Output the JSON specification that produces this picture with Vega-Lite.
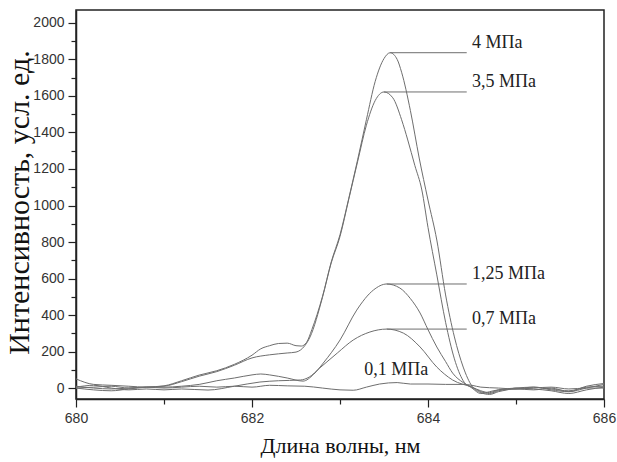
{
  "$schema": "https://vega.github.io/schema/vega-lite/v6.json",
  "width": 528,
  "height": 389,
  "autosize": {"type": "none"},
  "padding": {"left": 76, "top": 10, "right": 13, "bottom": 63},
  "background": "white",
  "config": {
    "view": {"stroke": "#222", "strokeWidth": 1.5},
    "axis": {"grid": false, "domainColor": "#222", "domainWidth": 1.5, "tickColor": "#222", "tickWidth": 1.2, "labelFont": "Liberation Sans", "labelFontSize": 14, "labelColor": "#333", "titleFont": "Liberation Serif", "titleFontWeight": "normal", "titleColor": "#111", "labelOverlap": false, "labelFlush": false}
  },
  "datasets": {
    "curves": [
      {"p":"4","x":680.0,"y":10},{"p":"4","x":680.2,"y":0},{"p":"4","x":680.4,"y":-5},{"p":"4","x":680.6,"y":0},{"p":"4","x":680.8,"y":5},{"p":"4","x":681.0,"y":12},{"p":"4","x":681.2,"y":40},{"p":"4","x":681.4,"y":71},{"p":"4","x":681.6,"y":95},{"p":"4","x":681.8,"y":130},{"p":"4","x":682.0,"y":180},{"p":"4","x":682.1,"y":215},{"p":"4","x":682.2,"y":232},{"p":"4","x":682.3,"y":244},{"p":"4","x":682.4,"y":246},{"p":"4","x":682.5,"y":232},{"p":"4","x":682.56,"y":230},{"p":"4","x":682.62,"y":250},{"p":"4","x":682.68,"y":320},{"p":"4","x":682.8,"y":500},{"p":"4","x":682.9,"y":690},{"p":"4","x":683.0,"y":840},{"p":"4","x":683.1,"y":1040},{"p":"4","x":683.2,"y":1250},{"p":"4","x":683.3,"y":1470},{"p":"4","x":683.4,"y":1680},{"p":"4","x":683.5,"y":1805},{"p":"4","x":683.57,"y":1837},{"p":"4","x":683.65,"y":1800},{"p":"4","x":683.7,"y":1730},{"p":"4","x":683.8,"y":1520},{"p":"4","x":683.9,"y":1260},{"p":"4","x":684.0,"y":1030},{"p":"4","x":684.1,"y":811},{"p":"4","x":684.2,"y":510},{"p":"4","x":684.3,"y":280},{"p":"4","x":684.4,"y":115},{"p":"4","x":684.5,"y":10},{"p":"4","x":684.6,"y":-25},{"p":"4","x":684.7,"y":-35},{"p":"4","x":684.8,"y":-20},{"p":"4","x":684.9,"y":-10},{"p":"4","x":685.0,"y":0},{"p":"4","x":685.2,"y":-5},{"p":"4","x":685.4,"y":-15},{"p":"4","x":685.6,"y":-30},{"p":"4","x":685.8,"y":-10},{"p":"4","x":686.0,"y":5},
      {"p":"3.5","x":680.0,"y":0},{"p":"3.5","x":680.2,"y":-10},{"p":"3.5","x":680.4,"y":-15},{"p":"3.5","x":680.6,"y":-5},{"p":"3.5","x":680.8,"y":5},{"p":"3.5","x":681.0,"y":10},{"p":"3.5","x":681.2,"y":35},{"p":"3.5","x":681.4,"y":65},{"p":"3.5","x":681.6,"y":90},{"p":"3.5","x":681.8,"y":125},{"p":"3.5","x":682.0,"y":165},{"p":"3.5","x":682.2,"y":182},{"p":"3.5","x":682.4,"y":192},{"p":"3.5","x":682.5,"y":197},{"p":"3.5","x":682.6,"y":232},{"p":"3.5","x":682.66,"y":280},{"p":"3.5","x":682.8,"y":495},{"p":"3.5","x":682.9,"y":685},{"p":"3.5","x":683.0,"y":830},{"p":"3.5","x":683.1,"y":1035},{"p":"3.5","x":683.2,"y":1240},{"p":"3.5","x":683.3,"y":1440},{"p":"3.5","x":683.4,"y":1575},{"p":"3.5","x":683.5,"y":1622},{"p":"3.5","x":683.6,"y":1590},{"p":"3.5","x":683.7,"y":1470},{"p":"3.5","x":683.77,"y":1359},{"p":"3.5","x":683.85,"y":1220},{"p":"3.5","x":683.93,"y":1085},{"p":"3.5","x":684.0,"y":880},{"p":"3.5","x":684.1,"y":620},{"p":"3.5","x":684.2,"y":360},{"p":"3.5","x":684.3,"y":160},{"p":"3.5","x":684.4,"y":40},{"p":"3.5","x":684.5,"y":0},{"p":"3.5","x":684.6,"y":-30},{"p":"3.5","x":684.7,"y":-20},{"p":"3.5","x":684.8,"y":-10},{"p":"3.5","x":685.0,"y":-5},{"p":"3.5","x":685.2,"y":5},{"p":"3.5","x":685.4,"y":-10},{"p":"3.5","x":685.6,"y":-20},{"p":"3.5","x":685.8,"y":10},{"p":"3.5","x":686.0,"y":25},
      {"p":"1.25","x":680.0,"y":50},{"p":"1.25","x":680.2,"y":20},{"p":"1.25","x":680.4,"y":15},{"p":"1.25","x":680.6,"y":10},{"p":"1.25","x":680.8,"y":5},{"p":"1.25","x":681.0,"y":5},{"p":"1.25","x":681.2,"y":10},{"p":"1.25","x":681.4,"y":20},{"p":"1.25","x":681.6,"y":40},{"p":"1.25","x":681.8,"y":55},{"p":"1.25","x":682.0,"y":72},{"p":"1.25","x":682.1,"y":77},{"p":"1.25","x":682.2,"y":72},{"p":"1.25","x":682.4,"y":55},{"p":"1.25","x":682.58,"y":38},{"p":"1.25","x":682.7,"y":75},{"p":"1.25","x":682.81,"y":137},{"p":"1.25","x":683.0,"y":263},{"p":"1.25","x":683.19,"y":427},{"p":"1.25","x":683.38,"y":537},{"p":"1.25","x":683.53,"y":570},{"p":"1.25","x":683.68,"y":548},{"p":"1.25","x":683.8,"y":490},{"p":"1.25","x":683.91,"y":411},{"p":"1.25","x":684.0,"y":320},{"p":"1.25","x":684.1,"y":225},{"p":"1.25","x":684.2,"y":145},{"p":"1.25","x":684.28,"y":82},{"p":"1.25","x":684.4,"y":30},{"p":"1.25","x":684.5,"y":5},{"p":"1.25","x":684.6,"y":-20},{"p":"1.25","x":684.7,"y":-30},{"p":"1.25","x":684.8,"y":-15},{"p":"1.25","x":685.0,"y":-5},{"p":"1.25","x":685.2,"y":-10},{"p":"1.25","x":685.4,"y":0},{"p":"1.25","x":685.6,"y":-20},{"p":"1.25","x":685.8,"y":0},{"p":"1.25","x":686.0,"y":20},
      {"p":"0.7","x":680.0,"y":5},{"p":"0.7","x":680.2,"y":15},{"p":"0.7","x":680.4,"y":0},{"p":"0.7","x":680.6,"y":-10},{"p":"0.7","x":680.8,"y":-5},{"p":"0.7","x":681.0,"y":-10},{"p":"0.7","x":681.2,"y":-5},{"p":"0.7","x":681.5,"y":-11},{"p":"0.7","x":681.8,"y":10},{"p":"0.7","x":682.09,"y":33},{"p":"0.7","x":682.3,"y":40},{"p":"0.7","x":682.55,"y":44},{"p":"0.7","x":682.65,"y":60},{"p":"0.7","x":682.77,"y":110},{"p":"0.7","x":682.97,"y":192},{"p":"0.7","x":683.15,"y":263},{"p":"0.7","x":683.34,"y":307},{"p":"0.7","x":683.53,"y":323},{"p":"0.7","x":683.72,"y":301},{"p":"0.7","x":683.91,"y":225},{"p":"0.7","x":684.1,"y":115},{"p":"0.7","x":684.28,"y":44},{"p":"0.7","x":684.5,"y":5},{"p":"0.7","x":684.6,"y":-15},{"p":"0.7","x":684.7,"y":-25},{"p":"0.7","x":684.8,"y":-10},{"p":"0.7","x":685.0,"y":0},{"p":"0.7","x":685.2,"y":5},{"p":"0.7","x":685.4,"y":-5},{"p":"0.7","x":685.6,"y":-15},{"p":"0.7","x":685.8,"y":5},{"p":"0.7","x":686.0,"y":10},
      {"p":"0.1","x":680.0,"y":0},{"p":"0.1","x":680.2,"y":5},{"p":"0.1","x":680.4,"y":10},{"p":"0.1","x":680.6,"y":0},{"p":"0.1","x":680.8,"y":5},{"p":"0.1","x":681.0,"y":0},{"p":"0.1","x":681.2,"y":5},{"p":"0.1","x":681.4,"y":10},{"p":"0.1","x":681.6,"y":5},{"p":"0.1","x":681.8,"y":10},{"p":"0.1","x":682.0,"y":5},{"p":"0.1","x":682.2,"y":15},{"p":"0.1","x":682.4,"y":12},{"p":"0.1","x":682.6,"y":10},{"p":"0.1","x":682.8,"y":0},{"p":"0.1","x":683.0,"y":-10},{"p":"0.1","x":683.15,"y":-12},{"p":"0.1","x":683.3,"y":5},{"p":"0.1","x":683.45,"y":22},{"p":"0.1","x":683.65,"y":30},{"p":"0.1","x":683.8,"y":22},{"p":"0.1","x":684.0,"y":22},{"p":"0.1","x":684.2,"y":20},{"p":"0.1","x":684.4,"y":20},{"p":"0.1","x":684.5,"y":15},{"p":"0.1","x":684.6,"y":5},{"p":"0.1","x":684.8,"y":0},{"p":"0.1","x":685.0,"y":-5},{"p":"0.1","x":685.2,"y":0},{"p":"0.1","x":685.4,"y":5},{"p":"0.1","x":685.6,"y":-5},{"p":"0.1","x":685.8,"y":0},{"p":"0.1","x":686.0,"y":0}
    ],
    "ann": [
      {"label":"4 МПа","x1":683.57,"x2":684.44,"y":1837,"lx":684.5},
      {"label":"3,5 МПа","x1":683.5,"x2":684.44,"y":1622,"lx":684.5},
      {"label":"1,25 МПа","x1":683.53,"x2":684.44,"y":570,"lx":684.5},
      {"label":"0,7 МПа","x1":683.53,"x2":684.44,"y":323,"lx":684.5}
    ],
    "ann2": [
      {"label":"0,1 МПа","x":683.64,"y":99}
    ]
  },
  "resolve": {"axis": {"x": "independent", "y": "independent"}},
  "layer": [
    {
      "data": {"name": "curves"},
      "mark": {"type": "line", "color": "#6e6e6e", "strokeWidth": 1, "interpolate": "monotone", "clip": true},
      "encoding": {
        "x": {"field": "x", "type": "quantitative", "scale": {"domain": [680, 686], "nice": false, "zero": false},
          "axis": {"orient": "bottom", "values": [680, 682, 684, 686], "format": "d", "tickSize": 8, "labelPadding": 4,
            "title": "Длина волны, нм", "titleFontSize": 22, "titleX": 264, "titleY": 46, "titleBaseline": "middle", "titleAnchor": "middle"}},
        "y": {"field": "y", "type": "quantitative", "scale": {"domain": [-60, 2071], "nice": false, "zero": false},
          "axis": {"orient": "left", "values": [0,200,400,600,800,1000,1200,1400,1600,1800,2000], "format": "d", "tickSize": 8, "labelPadding": 4,
            "title": "Интенсивность, усл. ед.", "titleFontSize": 30, "titleX": -57, "titleY": 192, "titleAngle": -90, "titleBaseline": "middle", "titleAlign": "center"}},
        "detail": {"field": "p", "type": "nominal"}
      }
    },
    {
      "data": {"name": "ann"},
      "mark": {"type": "rule", "color": "#6e6e6e", "strokeWidth": 1},
      "encoding": {
        "x": {"field": "x1", "type": "quantitative",
          "axis": {"orient": "bottom", "values": [681, 683, 685], "labels": false, "domain": false, "tickSize": 5, "title": null}},
        "x2": {"field": "x2"},
        "y": {"field": "y", "type": "quantitative",
          "axis": {"orient": "left", "values": [100,300,500,700,900,1100,1300,1500,1700,1900], "labels": false, "domain": false, "tickSize": 5, "title": null}}
      }
    },
    {
      "data": {"name": "ann"},
      "mark": {"type": "text", "align": "left", "baseline": "middle", "dy": -10, "font": "Liberation Serif", "fontSize": 18, "color": "#222"},
      "encoding": {
        "x": {"field": "lx", "type": "quantitative", "axis": null},
        "y": {"field": "y", "type": "quantitative", "axis": null},
        "text": {"field": "label"}
      }
    },
    {
      "data": {"name": "ann2"},
      "mark": {"type": "text", "align": "center", "baseline": "middle", "font": "Liberation Serif", "fontSize": 18, "color": "#222"},
      "encoding": {
        "x": {"field": "x", "type": "quantitative", "axis": null},
        "y": {"field": "y", "type": "quantitative", "axis": null},
        "text": {"field": "label"}
      }
    }
  ]
}
